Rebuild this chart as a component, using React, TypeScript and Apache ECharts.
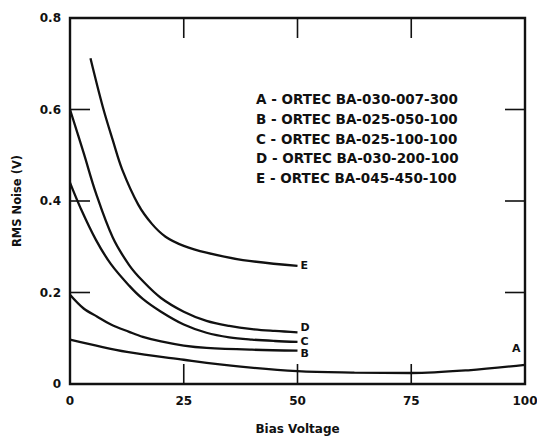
import React, { useEffect, useRef } from "react";
import * as echarts from "echarts";

const xTicks = [0, 25, 50, 75, 100];
const yTicks = [0, 0.2, 0.4, 0.6, 0.8];

const seriesNames = ["A", "B", "C", "D", "E"];
const legendLines = [
  "A - ORTEC BA-030-007-300",
  "B - ORTEC BA-025-050-100",
  "C - ORTEC BA-025-100-100",
  "D - ORTEC BA-030-200-100",
  "E - ORTEC BA-045-450-100",
];

const xA = [0, 12.5, 25, 37.5, 50, 62.5, 75, 87.5, 100];
const yA = [0.097, 0.07, 0.053, 0.038, 0.028, 0.025, 0.024, 0.03, 0.042];

const xB = [0, 3, 6, 9, 13, 16, 20, 25, 30, 40, 50];
const yB = [0.195, 0.165, 0.147, 0.13, 0.114, 0.103, 0.093, 0.084, 0.079, 0.075, 0.073];

const xC = [0, 2.3, 5.7, 9, 13, 16, 20, 25, 30, 35, 40, 45, 50];
const yC = [0.44, 0.385, 0.315, 0.262, 0.215, 0.186, 0.158, 0.13, 0.112, 0.102, 0.097, 0.094, 0.092];

const xD = [0, 3, 5.7, 9.4, 13, 16, 20, 25, 30, 35, 40, 45, 50];
const yD = [0.6, 0.505, 0.417, 0.32, 0.26, 0.225, 0.188, 0.158, 0.138, 0.127, 0.12, 0.116, 0.113];

const xE = [4.5, 7.2, 9.4, 11.5, 15, 18, 21, 25, 30, 38, 50];
const yE = [0.712, 0.606, 0.533, 0.468, 0.392, 0.35, 0.322, 0.302, 0.287, 0.271, 0.258];

const FONT = "DejaVu Sans";

function pairs(xs: number[], ys: number[]) {
  return xs.map((x, i) => [x, ys[i]]);
}

export default function App() {
  const ref = useRef<HTMLDivElement>(null);
  useEffect(() => {
    if (!ref.current) return;
    const chart = echarts.init(ref.current, null, { renderer: "svg" });
    const ink = "#111";
    const labelStyle = { color: ink, fontFamily: FONT, fontWeight: "bold" as const, fontSize: 12 };
    const allData = [
      pairs(xA, yA),
      pairs(xB, yB),
      pairs(xC, yC),
      pairs(xD, yD),
      pairs(xE, yE),
    ];
    const labelOffsets = [
      [-16, -16],
      [0, 3],
      [0, 0],
      [0, -5],
      [0, 0],
    ];
    const series = allData.map((d, i) => ({
      type: "line",
      name: seriesNames[i],
      data: d,
      smooth: 0.35,
      showSymbol: false,
      symbol: "none",
      lineStyle: { color: ink, width: 2.3 },
      endLabel: {
        show: true,
        formatter: seriesNames[i],
        color: ink,
        fontFamily: FONT,
        fontWeight: "bold",
        fontSize: 11,
        distance: 3,
        offset: labelOffsets[i],
      },
    }));
    chart.setOption({
      animation: false,
      backgroundColor: "#fff",
      grid: {
        left: 70,
        right: 12,
        top: 18,
        bottom: 54,
        outerBoundsMode: "none",
        containLabel: false,
      },
      xAxis: {
        type: "value",
        min: 0,
        max: 100,
        interval: 25,
        axisLine: { show: false },
        axisTick: { show: false },
        axisLabel: { ...labelStyle, margin: 11, showMinLabel: true, showMaxLabel: true },
        splitLine: { show: false },
        name: "Bias Voltage",
        nameLocation: "middle",
        nameGap: 39,
        nameTextStyle: { ...labelStyle },
      },
      yAxis: {
        type: "value",
        min: 0,
        max: 0.8,
        interval: 0.2,
        axisLine: { show: false },
        axisTick: { show: false },
        axisLabel: {
          ...labelStyle,
          margin: 9,
          formatter: (v: number) => (v === 0 ? "0" : v.toFixed(1)),
        },
        splitLine: { show: false },
        name: "RMS Noise (V)",
        nameLocation: "middle",
        nameGap: 47,
        nameRotate: 90,
        nameTextStyle: { ...labelStyle, fontSize: 11.5 },
      },
      series,
    });

    // frame and inward ticks, positioned through the chart's own scales
    const p0 = chart.convertToPixel({ gridIndex: 0 }, [0, 0]) as number[];
    const p1 = chart.convertToPixel({ gridIndex: 0 }, [100, 0.8]) as number[];
    const x0 = p0[0], y0 = p0[1], x1 = p1[0], y1 = p1[1];
    const tickLen = 20;
    const stroke = { stroke: ink, lineWidth: 1.6 };
    const els: any[] = [
      {
        type: "rect",
        shape: { x: x0, y: y1, width: x1 - x0, height: y0 - y1 },
        style: { fill: "none", stroke: ink, lineWidth: 2.4 },
        z: 10,
      },
    ];
    xTicks.slice(1, -1).forEach((t) => {
      const px = (chart.convertToPixel({ gridIndex: 0 }, [t, 0]) as number[])[0];
      els.push({ type: "line", shape: { x1: px, y1: y0, x2: px, y2: y0 - tickLen }, style: stroke, z: 10 });
      els.push({ type: "line", shape: { x1: px, y1: y1, x2: px, y2: y1 + tickLen }, style: stroke, z: 10 });
    });
    yTicks.slice(1, -1).forEach((t) => {
      const py = (chart.convertToPixel({ gridIndex: 0 }, [0, t]) as number[])[1];
      els.push({ type: "line", shape: { x1: x0, y1: py, x2: x0 + tickLen, y2: py }, style: stroke, z: 10 });
      els.push({ type: "line", shape: { x1: x1, y1: py, x2: x1 - tickLen, y2: py }, style: stroke, z: 10 });
    });
    els.push({
      type: "text",
      left: 256,
      top: 89,
      style: {
        text: legendLines.join("\n"),
        fill: ink,
        font: `bold 13.5px "${FONT}"`,
        lineHeight: 19.8,
      },
      z: 10,
    });
    chart.setOption({ graphic: els });
    return () => chart.dispose();
  }, []);
  return (
    <div
      ref={ref}
      style={{ position: "fixed", left: 0, top: 0, width: 537, height: 438, background: "#fff" }}
    />
  );
}
